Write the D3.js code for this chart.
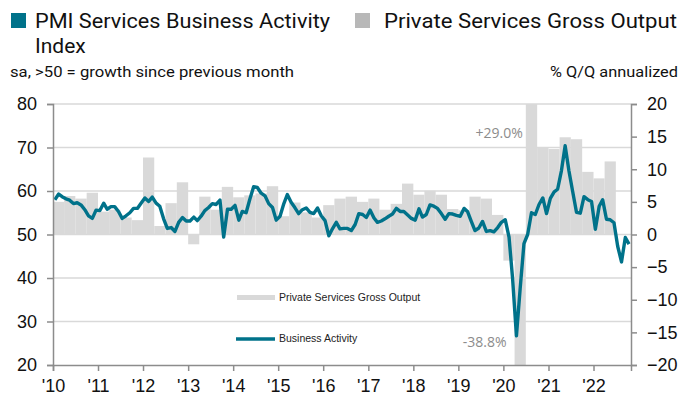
<!DOCTYPE html>
<html>

<head>
  <meta charset="utf-8">
  <title>PMI Services Business Activity vs Private Services Gross Output</title>
  <script src="https://cdn.jsdelivr.net/npm/d3@7"></script>
  <style>
    body {
      margin: 0;
      background: #fff;
      overflow: hidden;
    }

    .head {
      font-family: Roboto, "Noto Sans", sans-serif;
      fill: #111;
    }

    .axis text {
      font-family: "Liberation Sans", Arial, sans-serif;
      font-size: 18px;
      fill: #111;
    }
  </style>
</head>

<body>
  <svg id="chart" width="680" height="410"></svg>

  <script>
    // monthly PMI, Jan 2010 .. Oct 2022
    const pmiStart = new Date(2010, 0, 1);
    const pmiValues = [
      58.0, 59.3, 58.7, 58.2, 57.9, 57.1, 57.3, 56.8, 55.7, 54.3, 53.7, 55.6,
      55.5, 57.2, 55.8, 56.4, 56.4, 55.3, 53.7, 54.3, 55.0, 56.0, 56.0, 57.2,
      58.4, 57.6, 58.6, 57.2, 56.5, 53.6, 51.4, 51.6, 50.7, 52.8, 53.9, 53.1,
      53.1, 54.0, 53.2, 54.2, 55.5, 56.2, 57.1, 56.9, 57.9, 49.4, 55.8, 55.8,
      56.7, 53.3, 55.3, 55.0, 58.1, 61.0, 60.8, 59.5, 58.9, 57.1, 56.2, 53.3,
      54.2, 57.1, 59.2, 57.4, 56.2, 54.8, 55.7, 56.1, 55.1, 54.8, 56.1, 54.3,
      53.2, 49.7, 51.3, 52.8, 51.3, 51.4, 51.4, 50.9, 52.3, 54.8, 54.6, 53.9,
      55.6, 53.8, 52.8, 53.1, 53.6, 54.2, 54.7, 56.0, 55.3, 55.3, 54.5, 53.7,
      53.3, 55.9, 54.0, 54.6, 56.8, 56.5, 56.0, 54.8, 53.5, 54.8, 54.7, 54.4,
      54.2, 56.0, 55.3, 53.0, 50.9, 51.5, 53.0, 50.7, 50.9, 50.6, 51.6, 52.8,
      53.4, 49.4, 39.8, 26.7, 37.5, 47.9, 50.0, 55.0, 54.6, 56.9, 58.4, 54.8,
      58.3, 59.8, 60.4, 64.7, 70.4, 64.6, 59.9, 55.1, 54.9, 58.7, 58.0, 57.6,
      51.2, 56.5, 58.0, 53.5, 53.4, 52.7, 47.3, 43.7, 49.3, 47.8
    ];

    // quarterly gross output, % q/q annualized, 2010Q1 .. 2022Q2
    const outputStart = new Date(2010, 0, 1);
    const outputValues = [
      5.0, 5.9, 5.5, 6.4,
      3.5, 3.8, 2.6, 2.2,
      11.8, 1.3, 4.8, 8.0,
      -1.5, 5.8, 3.8, 7.3,
      5.7, 6.0, 6.3, 7.4,
      2.8, 4.9, 3.4, 2.6,
      4.5, 5.5, 5.8, 5.0,
      5.5, 3.8, 4.7, 7.8,
      6.1, 6.7, 6.1, 3.9,
      3.7, 5.8, 5.5, 3.0,
      -4.0, -38.8, 29.0, 13.4,
      13.1, 14.9, 14.6, 9.6,
      8.6, 11.2
    ];

    const leftTicks = [20, 30, 40, 50, 60, 70, 80];
    const rightTicks = [-20, -15, -10, -5, 0, 5, 10, 15, 20];
    const yearTicks = d3.range(2010, 2023);
    const yearLabels = yearTicks.map(y => "'" + String(y).slice(2));

    const TEAL = '#00728a';
    const BAR = '#d9d9d9';

    const svg = d3.select('#chart');
    const pLeft = 53, pRight = 631, pTop = 104, pBottom = 365;

    const x = d3.scaleTime()
      .domain([new Date(2010, 0, 1), new Date(2022, 10, 1)])
      .range([pLeft, pRight]);
    const yL = d3.scaleLinear().domain([20, 80]).range([pBottom, pTop]);
    const yR = d3.scaleLinear().domain([-20, 20]).range([pBottom, pTop]);

    const pmi = pmiValues.map((v, i) => ({
      date: d3.timeDay.offset(d3.timeMonth.offset(pmiStart, i), 15),
      value: v
    }));
    const output = outputValues.map((v, i) => ({
      start: d3.timeMonth.offset(outputStart, i * 3),
      end: d3.timeMonth.offset(outputStart, i * 3 + 3),
      value: v
    }));

    svg.append('defs').append('clipPath').attr('id', 'plot')
      .append('rect')
      .attr('x', pLeft).attr('y', pTop)
      .attr('width', pRight - pLeft).attr('height', pBottom - pTop);

    // gridlines
    svg.append('g')
      .selectAll('line')
      .data(leftTicks.slice(1))
      .enter()
      .append('line')
      .attr('x1', pLeft).attr('x2', pRight)
      .attr('y1', d => yL(d)).attr('y2', d => yL(d))
      .attr('stroke', '#d9d9d9')
      .attr('stroke-width', 1.5);

    // bars
    svg.append('g')
      .attr('clip-path', 'url(#plot)')
      .selectAll('rect')
      .data(output)
      .enter()
      .append('rect')
      .attr('x', d => x(d.start))
      .attr('width', d => x(d.end) - x(d.start))
      .attr('y', d => yR(Math.max(0, d.value)))
      .attr('height', d => Math.abs(yR(d.value) - yR(0)))
      .attr('fill', BAR);

    // line
    const line = d3.line()
      .x(d => x(d.date))
      .y(d => yL(d.value));

    svg.append('path')
      .datum(pmi)
      .attr('clip-path', 'url(#plot)')
      .attr('d', line)
      .attr('fill', 'none')
      .attr('stroke', TEAL)
      .attr('stroke-width', 3.4)
      .attr('stroke-linejoin', 'round');

    // axes
    const axisColor = '#8c8c8c';

    const gL = svg.append('g')
      .attr('class', 'axis')
      .attr('transform', `translate(${pLeft},0)`)
      .call(d3.axisLeft(yL).tickValues(leftTicks).tickSize(6).tickPadding(10));

    const gR = svg.append('g')
      .attr('class', 'axis')
      .attr('transform', `translate(${pRight},0)`)
      .call(d3.axisRight(yR).tickValues(rightTicks).tickSize(6).tickPadding(10));

    const gX = svg.append('g')
      .attr('class', 'axis')
      .attr('transform', `translate(0,${pBottom})`)
      .call(d3.axisBottom(x)
        .tickValues(yearTicks.map(y => new Date(y, 0, 1)))
        .tickFormat((d, i) => yearLabels[i])
        .tickSize(6).tickPadding(5));

    [gL, gR, gX].forEach(g => {
      g.attr('font-family', null).attr('font-size', null);
      g.select('.domain').attr('stroke', axisColor).attr('stroke-width', 1.5);
      g.selectAll('.tick line').attr('stroke', axisColor).attr('stroke-width', 1.5);
    });
    gX.selectAll('text').attr('dy', '0.9em');

    // call-outs for the clipped bars
    const q2 = output[41], q3 = output[42];
    svg.append('text')
      .attr('x', x(q3.start) - 3).attr('y', 138)
      .attr('text-anchor', 'end')
      .style('font-family', '"Open Sans", sans-serif')
      .style('font-size', '14px')
      .attr('fill', '#8c8c8c')
      .text('+' + q3.value.toFixed(1) + '%');
    svg.append('text')
      .attr('x', x(q2.start) - 8).attr('y', 347)
      .attr('text-anchor', 'end')
      .style('font-family', '"Open Sans", sans-serif')
      .style('font-size', '14px')
      .attr('fill', '#8c8c8c')
      .text(q2.value.toFixed(1) + '%');

    // inner legend
    const leg = svg.append('g')
      .style('font-family', '"Liberation Sans", Arial, sans-serif')
      .style('font-size', '10.5px')
      .attr('fill', '#222');
    leg.append('rect').attr('x', 237).attr('y', 295).attr('width', 38).attr('height', 5).attr('fill', BAR);
    leg.append('text').attr('x', 279).attr('y', 301).text('Private Services Gross Output');
    leg.append('line').attr('x1', 236).attr('x2', 275).attr('y1', 339).attr('y2', 339)
      .attr('stroke', TEAL).attr('stroke-width', 3.4);
    leg.append('text').attr('x', 279).attr('y', 342).text('Business Activity');

    // header legend, widths fitted to the original lettering
    const head = svg.append('g').attr('class', 'head');
    const fit = (sel, w) => sel.attr('textLength', w).attr('lengthAdjust', 'spacingAndGlyphs');
    head.append('rect').attr('x', 11).attr('y', 13).attr('width', 15).attr('height', 15).attr('fill', TEAL);
    fit(head.append('text').attr('x', 35).attr('y', 28).style('font-size', '21px')
      .text('PMI Services Business Activity'), 295);
    head.append('text').attr('x', 35).attr('y', 53).style('font-size', '21px').text('Index');
    head.append('rect').attr('x', 355).attr('y', 13).attr('width', 15).attr('height', 15).attr('fill', '#b8b8b8');
    fit(head.append('text').attr('x', 384).attr('y', 28).style('font-size', '21px')
      .text('Private Services Gross Output'), 293);
    fit(head.append('text').attr('x', 10).attr('y', 77).style('font-size', '15.5px')
      .text('sa, >50 = growth since previous month'), 284);
    fit(head.append('text').attr('x', 550).attr('y', 77).style('font-size', '15.5px')
      .text('% Q/Q annualized'), 128);
  </script>
</body>

</html>
